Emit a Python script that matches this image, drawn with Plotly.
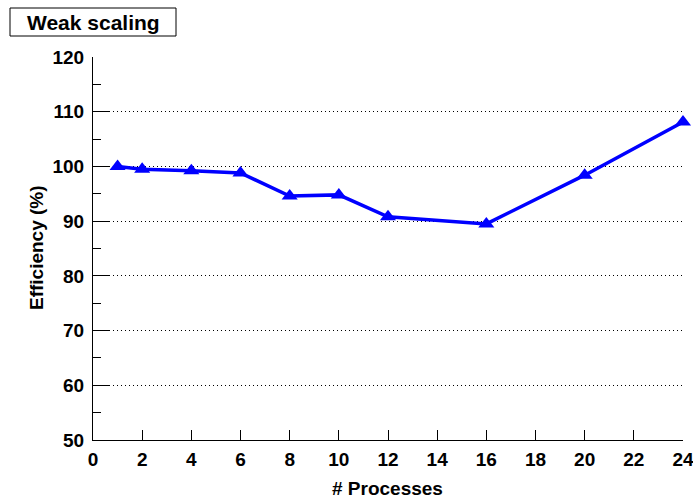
import plotly.graph_objects as go

processes = [1, 2, 4, 6, 8, 10, 12, 16, 20, 24]
efficiency = [100.0, 99.5, 99.2, 98.8, 94.6, 94.8, 90.8, 89.5, 98.4, 108.1]

title_text = "Weak scaling"
x_title = "# Processes"
y_title = "Efficiency (%)"

W, H = 693, 500
L, R, T, B = 93, 10, 57, 60
pw, ph = W - L - R, H - T - B

def px(x):
    return (x - L) / pw

def py(y):
    return (H - B - y) / ph

FAM = "Liberation Sans, Arial, sans-serif"

fig = go.Figure()
fig.add_trace(go.Scatter(
    x=processes, y=efficiency, mode="lines+markers",
    line=dict(color="#0000ff", width=3.5),
    marker=dict(symbol="triangle-up", size=14, color="#0000ff"),
    cliponaxis=False, showlegend=False, hoverinfo="skip",
))

fig.update_layout(
    width=W, height=H,
    margin=dict(l=L, r=R, t=T, b=B, autoexpand=False),
    paper_bgcolor="white", plot_bgcolor="white",
    font=dict(family=FAM, size=16, color="black"),
    xaxis=dict(
        range=[0, 24], dtick=2, tick0=0, automargin=False,
        showline=True, linecolor="black", linewidth=1,
        ticks="inside", ticklen=10, tickcolor="black", tickwidth=1,
        showgrid=False, zeroline=False,
        ticklabelstandoff=2, ticklabeloverflow="allow",
        tickfont=dict(family=FAM, size=19, color="black", weight="bold"),
    ),
    yaxis=dict(
        range=[50, 120], dtick=10, tick0=50, automargin=False,
        showline=True, linecolor="black", linewidth=1,
        ticks="inside", ticklen=16, tickcolor="black", tickwidth=1,
        showgrid=True, gridcolor="black", gridwidth=1, griddash="1px,3px",
        zeroline=False,
        minor=dict(dtick=5, tick0=50, ticks="inside", ticklen=8, tickcolor="black", showgrid=False),
        ticklabelstandoff=4, ticklabeloverflow="allow",
        tickfont=dict(family=FAM, size=19, color="black", weight="bold"),
    ),
)

fig.add_annotation(xref="paper", yref="paper", x=px(387), y=py(488),
                   text="<b>%s</b>" % x_title, showarrow=False,
                   xanchor="center", yanchor="middle",
                   font=dict(family=FAM, size=19, color="black"))
fig.add_annotation(xref="paper", yref="paper", x=px(36), y=py(248),
                   text="<b>%s</b>" % y_title, showarrow=False, textangle=-90,
                   xanchor="center", yanchor="middle",
                   font=dict(family=FAM, size=19, color="black"))

fig.add_shape(type="rect", xref="paper", yref="paper",
              x0=px(10), x1=px(176), y0=py(36), y1=py(8),
              line=dict(color="black", width=1), fillcolor="white")
fig.add_annotation(xref="paper", yref="paper", x=px(93), y=py(22),
                   text="<b>%s</b>" % title_text, showarrow=False,
                   xanchor="center", yanchor="middle",
                   font=dict(family=FAM, size=21, color="black"))

fig.write_html("out.html", config={"displayModeBar": False},
               post_script="document.body.style.margin='0px';document.body.style.overflow='hidden';")
